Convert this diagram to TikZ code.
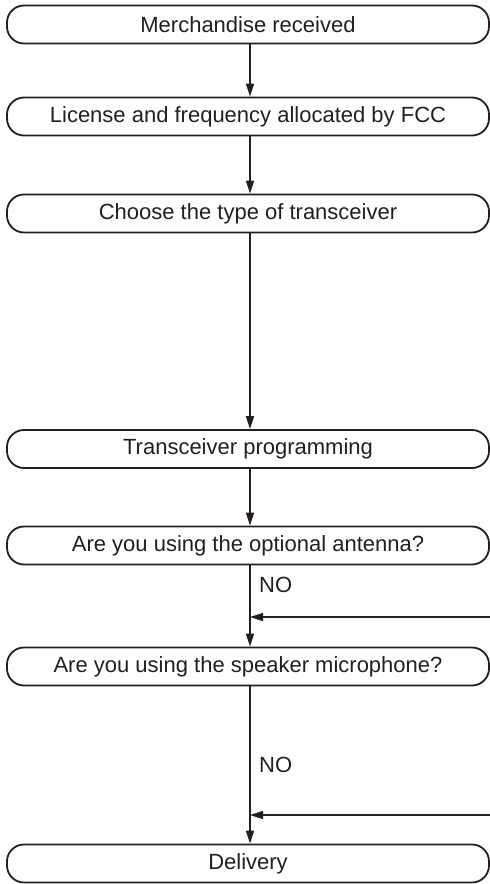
\documentclass[tikz,border=0pt]{standalone}
\usepackage{fontspec}
\setmainfont{Liberation Sans}
\usetikzlibrary{arrows.meta}
\definecolor{ink}{HTML}{231F20}
\tikzset{
  stepbox/.style={draw=ink, line width=1.8pt, rounded corners=17pt,
    minimum width=482pt, minimum height=38pt, inner sep=0pt,
    text=ink, font=\fontsize{22}{26}\selectfont},
  arr/.style={draw=ink, line width=1.5pt, -{Triangle[length=13pt,width=8pt]}},
  lbl/.style={text=ink, font=\fontsize{22}{26}\selectfont, anchor=west, inner sep=0pt}
}
\begin{document}
\begin{tikzpicture}[x=1pt,y=-1pt]
\useasboundingbox (0,0) rectangle (490,884);
\coordinate (spine) at (250,0);
\node[stepbox] (b1) at (248,24.5) {Merchandise received};
\node[stepbox] (b2) at (248,116.5) {License and frequency allocated by FCC};
\node[stepbox] (b3) at (248,213.5) {Choose the type of transceiver};
\node[stepbox] (b4) at (248,449) {Transceiver programming};
\node[stepbox] (b5) at (248,545.5) {Are you using the optional antenna?};
\node[stepbox] (b6) at (248,666.5) {Are you using the speaker microphone?};
\node[stepbox] (b7) at (248,863.5) {Delivery};
\node[lbl] (no1) at (259,585) {NO};
\node[lbl] (no2) at (259,765) {NO};
\coordinate (r1) at (491,617);
\coordinate (r2) at (491,815);
\draw[arr] (b1.south -| spine) -- (b2.north -| spine);
\draw[arr] (b2.south -| spine) -- (b3.north -| spine);
\draw[arr] (b3.south -| spine) -- (b4.north -| spine);
\draw[arr] (b4.south -| spine) -- (b5.north -| spine);
\draw[arr] (b5.south -| spine) -- (b6.north -| spine);
\draw[arr] (b6.south -| spine) -- (b7.north -| spine);
\draw[arr] (r1) -- (r1 -| spine);
\draw[arr] (r2) -- (r2 -| spine);
\end{tikzpicture}
\end{document}
